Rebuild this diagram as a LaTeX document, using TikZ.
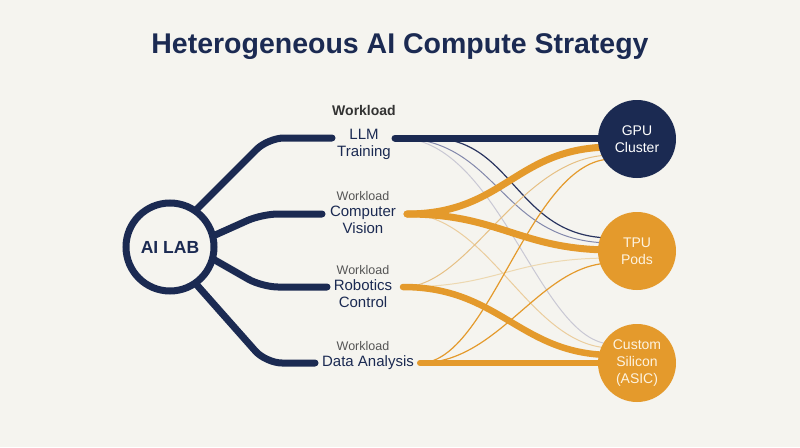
\documentclass[tikz,border=0pt]{standalone}
\usepackage{fontspec}
\setmainfont{Liberation Sans}
\definecolor{bg}{HTML}{F5F4EF}
\definecolor{navy}{HTML}{1B2A52}
\definecolor{orng}{HTML}{E49A2C}
\definecolor{navythin}{HTML}{2A3560}
\definecolor{slate}{HTML}{8388AB}
\definecolor{lgrey}{HTML}{C9C8D4}
\definecolor{tan}{HTML}{E6C084}
\definecolor{ltan}{HTML}{EDD8B0}
\definecolor{cream}{HTML}{FDF3E0}
\definecolor{wgrey}{HTML}{555555}
\tikzset{
  branch/.style={draw=navy, line width=7pt, line cap=round, rounded corners=16pt},
  thick/.style={line width=7pt, line cap=round},
  thin/.style={line width=1pt},
  label/.style={text=navy, align=center, font=\fontsize{15}{17}\selectfont, inner sep=0pt},
  wl/.style={text=wgrey, font=\fontsize{12.5}{15}\selectfont, inner sep=0pt},
  target/.style={circle, minimum size=78pt, inner sep=0pt, align=center, font=\fontsize{14}{17}\selectfont},
}
\begin{document}
\begin{tikzpicture}[x=1pt,y=-1pt]
\fill[bg] (0,0) rectangle (800,447);
\useasboundingbox (0,0) rectangle (800,447);

\node[text=navy, font=\bfseries\fontsize{28.5}{33}\selectfont, inner sep=0pt] (title) at (400,47) {Heterogeneous AI Compute Strategy};

% workload labels
\node[text=black!80, font=\bfseries\fontsize{14}{17}\selectfont, inner sep=0pt] (w1) at (364,110) {Workload};
\node[label] (llm) at (364,144) {LLM\\Training};
\node[wl] (w2) at (363,196) {Workload};
\node[label] (cv) at (363,220) {Computer\\Vision};
\node[wl] (w3) at (363,270) {Workload};
\node[label] (rob) at (363,294) {Robotics\\Control};
\node[wl] (w4) at (363,346) {Workload};
\node[label] (da) at (368,363) {Data Analysis};

% anchor coordinates
\coordinate (labc) at (170,247);
\coordinate (l1s) at (196,210); \coordinate (l1c) at (268,138); \coordinate (l1e) at (332,138);
\coordinate (l2s) at (213,236); \coordinate (l2c) at (262,214); \coordinate (l2e) at (322,214);
\coordinate (l3s) at (213,259); \coordinate (l3c) at (262,287); \coordinate (l3e) at (327,287);
\coordinate (l4s) at (196,284); \coordinate (l4c) at (266,363); \coordinate (l4e) at (315,363);

\coordinate (llmR) at (395,138);
\coordinate (cvR) at (407,214);
\coordinate (robR) at (403,287);
\coordinate (daR) at (420,363);

\coordinate (g1) at (612,138); \coordinate (g2) at (612,147); \coordinate (g3) at (612,155); \coordinate (g4) at (612,159);
\coordinate (t1) at (612,238); \coordinate (t2) at (612,243); \coordinate (t3) at (612,250); \coordinate (t4) at (612,258); \coordinate (t5) at (612,263);
\coordinate (a1) at (612,344); \coordinate (a2) at (612,348); \coordinate (a3) at (612,355); \coordinate (a4) at (612,363);

% left branches
\draw[branch] (l1s) -- (l1c) -- (l1e);
\draw[branch] (l2s) -- (l2c) -- (l2e);
\draw[branch] (l3s) -- (l3c) -- (l3e);
\draw[branch] (l4s) -- (l4c) -- (l4e);

% thin connectors
\draw[thin, draw=lgrey] (400,138) .. controls (500,140) and (540,344) .. (a1);
\draw[thin, draw=tan!80] (cvR) .. controls (490,214) and (530,348) .. (a2);
\draw[thin, draw=slate] (400,138) .. controls (500,140) and (500,243) .. (t2);
\draw[thin, draw=navythin, line width=1.2pt] (430,138) .. controls (515,138) and (515,238) .. (t1);
\draw[thin, draw=ltan] (robR) .. controls (500,287) and (510,258) .. (t4);
\draw[thin, draw=tan] (robR) .. controls (470,287) and (520,155) .. (g3);
\draw[thin, draw=orng, line width=1.2pt] (daR) .. controls (490,363) and (530,159) .. (g4);
\draw[thin, draw=orng, line width=1.2pt] (daR) .. controls (500,363) and (540,263) .. (t5);

% thick connectors
\draw[thick, draw=navy] (llmR) -- (g1);
\draw[thick, draw=orng] (cvR) .. controls (505,214) and (515,147) .. (g2);
\draw[thick, draw=orng] (cvR) .. controls (500,214) and (520,250) .. (t3);
\draw[thick, draw=orng, line width=6.5pt] (robR) .. controls (500,287) and (520,355) .. (a3);
\draw[thick, draw=orng, line width=6pt] (daR) -- (a4);

% AI LAB hub
\node[circle, draw=navy, line width=7pt, fill=bg, minimum size=88pt, inner sep=0pt,
      text=navy, font=\bfseries\fontsize{17.5}{21}\selectfont] (lab) at (labc) {AI LAB};

% targets
\node[target, fill=navy, text=white] (gpu) at (637,139) {GPU\\Cluster};
\node[target, fill=orng, text=cream] (tpu) at (637,251) {TPU\\Pods};
\node[target, fill=orng, text=cream] (asic) at (637,363) {Custom\\Silicon\\(ASIC)};
\end{tikzpicture}
\end{document}
